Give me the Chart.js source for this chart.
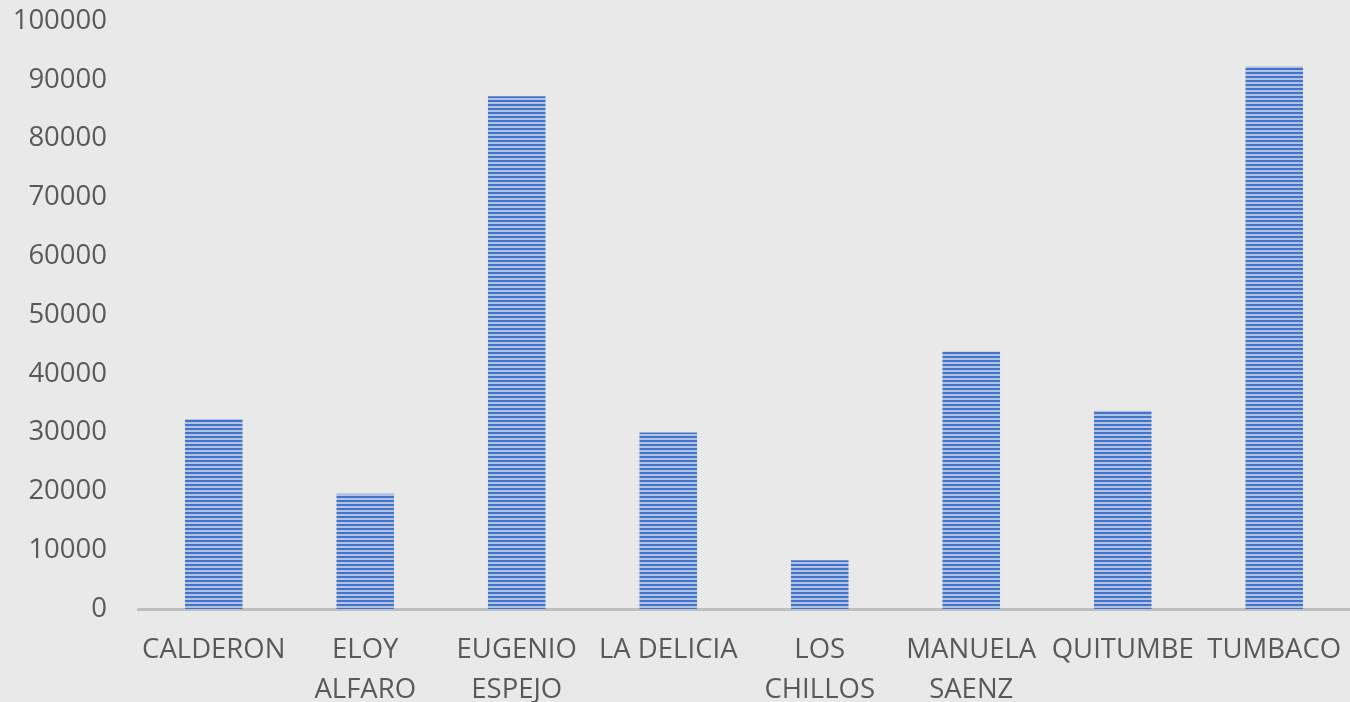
<!DOCTYPE html>
<html lang="es">
<head>
  <meta charset="UTF-8" />
  <title>Parroquias</title>
  <script src="https://cdn.jsdelivr.net/npm/chart.js"></script>
  <style>
    html, body { margin: 0; padding: 0; background: #e9e9e9; }
    #wrap { width: 1350px; height: 702px; position: relative; }
  </style>
</head>
<body>
  <div id="wrap"><canvas id="myChart"></canvas></div>
  <script>
    const labels = ["CALDERON", ["ELOY", "ALFARO"], ["EUGENIO", "ESPEJO"], "LA DELICIA",
      ["LOS", "CHILLOS"], ["MANUELA", "SAENZ"], "QUITUMBE", "TUMBACO"];
    const values = [32300, 19600, 87200, 30000, 8300, 43800, 33700, 92300];
    const yTicks = [0, 10000, 20000, 30000, 40000, 50000, 60000, 70000, 80000, 90000, 100000];

    // striped fill like the original
    function stripes() {
      const c = document.createElement("canvas");
      c.width = 4; c.height = 4;
      const g = c.getContext("2d");
      g.fillStyle = "#aec3e6";
      g.fillRect(0, 0, 4, 4);
      g.fillStyle = "#4472c4";
      g.fillRect(0, 0, 4, 2);
      return g.createPattern(c, "repeat");
    }

    const ctx = document.getElementById("myChart").getContext("2d");
    const myChart = new Chart(ctx, {
      type: "bar",
      data: {
        labels: labels,
        datasets: [{
          data: values,
          backgroundColor: stripes(),
          borderWidth: 0,
          barPercentage: 0.38,
          categoryPercentage: 1,
        }],
      },
      options: {
        responsive: true,
        maintainAspectRatio: false,
        animation: false,
        layout: { padding: { top: 21, right: 0, left: 0, bottom: 0 } },
        plugins: { legend: { display: false }, tooltip: { enabled: false } },
        scales: {
          x: {
            grid: { display: false, drawTicks: false },
            border: { display: true, color: "#bfbfbf", width: 3 },
            afterFit: (axis) => {
              axis.height = 93;
              axis.paddingLeft = 0;
              axis.paddingRight = 0;
            },
            ticks: {
              color: "#595959",
              maxRotation: 0,
              autoSkip: false,
              padding: 21,
              font: { family: "Open Sans", size: 27.5, lineHeight: 1.45 },
            },
          },
          y: {
            min: 0,
            max: 100000,
            afterBuildTicks: (axis) => { axis.ticks = yTicks.map((v) => ({ value: v })); },
            afterFit: (axis) => {
              axis.width = 138;
              axis.paddingTop = 0;
              axis.paddingBottom = 0;
            },
            grid: { display: false, drawTicks: false },
            border: { display: false },
            ticks: {
              color: "#595959",
              padding: 31,
              callback: (v) => String(v),
              font: { family: "Open Sans", size: 27.5 },
            },
          },
        },
      },
    });
  </script>
</body>
</html>
